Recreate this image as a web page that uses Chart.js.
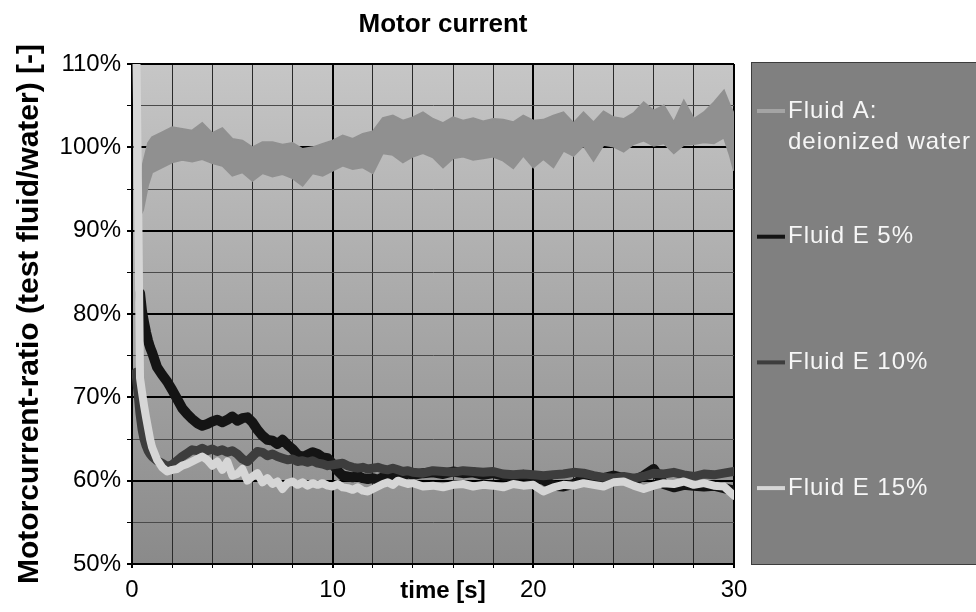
<!DOCTYPE html>
<html><head><meta charset="utf-8">
<script src="https://cdn.jsdelivr.net/npm/chart.js@4.4.0/dist/chart.umd.min.js"></script>
<style>html,body{margin:0;padding:0;background:#fff;}#wrap{width:976px;height:612px;}</style>
</head><body><div id="wrap"><canvas id="c" width="976" height="612"></canvas></div>
<script>
const chartTitle = 'Motor current';
const xAxisTitle = 'time [s]';
const yAxisTitle = 'Motorcurrent-ratio (test fluid/water) [-]';
const seriesNames = [['Fluid A:', 'deionized water'], ['Fluid E 5%'], ['Fluid E 10%'], ['Fluid E 15%']];
const xTickLabels = [0, 10, 20, 30];
const yTickLabels = [50, 60, 70, 80, 90, 100, 110];

const timeA = [0.45,0.55,0.8,1,1.5,2,2.5,3,3.5,4,4.5,5,5.5,6,6.5,7,7.5,8,8.5,9,9.5,10,10.5,11,11.5,12,12.5,13,13.5,14,14.5,15,15.5,16,16.5,17,17.5,18,18.5,19,19.5,20,20.5,21,21.5,22,22.5,23,23.5,24,24.5,25,25.5,26,26.5,27,27.5,28,28.5,29,29.5,29.8,30];
const fluidAUpper = [95,98,100.5,101.2,101.8,102.4,102.2,102.0,102.9,101.7,102.3,101.0,100.8,100.0,100.6,100.6,100.3,100.5,99.8,100.0,100.4,100.8,101.4,101.0,101.6,101.9,103.5,103.8,103.2,103.6,104.2,103.4,102.9,103.6,103.2,103.5,103.1,103.4,103.3,103.0,103.8,103.2,103.3,103.8,104.2,102.9,104.2,103.0,104.3,103.6,103.4,104.1,105.4,104.4,105.0,103.0,105.6,103.4,104.2,105.4,106.8,105.0,104.0];
const fluidALower = [92.0,92.5,95.5,97.0,97.6,98.2,98.5,98.3,98.6,98.1,97.8,96.6,97.0,96.0,96.9,96.5,96.8,96.3,95.4,96.9,96.6,97.2,97.8,97.4,97.6,96.9,99.3,99.1,98.2,98.9,99.3,98.8,97.6,98.7,98.9,98.5,98.7,98.9,98.4,97.5,99.0,97.6,98.6,97.6,99.6,99.0,100.2,98.4,100.3,100.1,99.5,100.4,100.8,100.2,100.5,99.3,100.3,100.4,100.6,100.5,101.2,99.0,97.2];

const timeE = [0.1,0.2,0.3,0.4,0.5,0.6,0.7,0.8,0.9,1.0,
  1.25,1.5,1.75,2,2.25,2.5,2.75,3,3.25,3.5,3.75,4,4.25,4.5,4.75,5,5.25,5.5,5.75,6,6.25,6.5,6.75,7,7.25,7.5,7.75,8,
  8.25,8.5,8.75,9,9.25,9.5,9.75,10,10.25,10.5,10.75,11,11.25,11.5,11.75,12,12.25,12.5,12.75,13,13.25,13.5,13.75,14,
  14.5,15,15.5,16,16.5,17,17.5,18,18.5,19,19.5,20,20.5,21,21.5,22,22.5,23,23.5,24,24.5,25,25.5,26,26.5,27,27.5,28,28.5,29,29.5,30];
const fluidE5 = [null,null,null,82.5,80.3,79.0,77.8,76.8,76.0,75.4,
  73.6,72.7,71.9,70.9,69.8,68.7,68.0,67.4,66.9,66.6,66.8,67.1,
  67.3,67.0,67.3,67.7,67.2,67.5,67.6,67.0,
  66.1,65.4,64.9,64.8,64.4,64.9,64.3,63.8,
  63.1,62.8,63.1,63.4,63.2,62.8,62.7,62.0,
  61.2,60.6,60.5,60.4,60.6,60.3,60.2,60.3,
  60.1,60.4,60.6,60.5,60.8,60.6,60.9,60.7,
  60.9,61.0,60.8,61.1,60.9,61.0,60.7,60.9,
  60.6,60.5,60.7,60.4,60.1,59.4,59.3,59.6,
  60.2,60.4,60.3,60.6,60.3,60.0,60.6,61.4,
  59.6,59.2,59.5,59.4,59.3,59.4,59.1,58.8];
const fluidE10 = [null,73,70.5,68,66.2,65,64.2,63.6,63.2,62.9,
  62.4,62.1,61.7,61.9,
  62.4,62.9,63.3,63.7,63.6,63.9,63.6,63.8,
  63.5,63.7,63.4,63.6,63.2,62.6,62.3,62.9,
  63.5,63.4,63.0,63.2,62.9,62.7,62.5,62.6,
  62.3,62.4,62.2,62.4,62.1,62.0,61.8,61.9,
  62.0,62.1,61.8,61.6,61.5,61.6,61.4,61.5,
  61.6,61.4,61.3,61.5,61.3,61.1,61.2,61.0,
  60.9,61.2,61.1,61.0,61.2,61.1,61.0,61.1,
  60.8,60.7,60.8,60.7,60.6,60.7,60.8,61.0,
  60.9,60.6,60.4,60.3,60.5,60.3,60.5,60.9,
  60.8,61.0,60.7,60.5,60.8,60.7,60.9,61.1];
const fluidE15 = [140,115,95,72.3,70.6,69.0,67.6,66.3,65.0,64.0,
  62.5,61.6,61.1,61.3,
  61.4,61.8,62.0,62.3,62.6,62.9,62.5,61.8,
  62.3,61.3,62.3,60.6,60.8,61.4,60.0,60.5,
  60.9,59.8,60.3,59.6,59.9,59.0,59.7,59.9,
  59.5,59.8,59.4,59.7,59.5,59.7,59.4,59.3,
  59.6,59.2,59.1,58.9,59.2,58.8,58.7,59.0,
  59.3,59.6,59.8,59.5,60.0,59.8,59.6,59.7,
  59.3,59.4,59.2,59.5,59.6,59.3,59.5,59.4,
  59.2,59.6,59.4,59.5,58.7,59.2,59.5,59.4,
  59.7,59.5,59.3,59.8,59.9,59.4,59.0,59.4,
  59.7,59.6,59.9,59.5,59.7,59.4,59.3,58.2];

const colA = '#909090', colE5 = '#141414', colE10 = '#3d3d3d', colE15 = '#d6d6d6';
const legendLineColours = ['#a4a4a4', colE5, colE10, colE15];
const pts = (t, v) => t.map((x, i) => ({x: x, y: v[i]}));
const FONT = '"Liberation Sans", Arial, sans-serif';

const decor = {
  id: 'decor',
  beforeDraw(chart) {
    const {ctx, chartArea: a} = chart;
    ctx.save();
    ctx.fillStyle = '#fff';
    ctx.fillRect(0, 0, chart.width, chart.height);
    const g = ctx.createLinearGradient(0, a.top, 0, a.bottom);
    g.addColorStop(0, '#c6c6c6');
    g.addColorStop(1, '#8a8a8a');
    ctx.fillStyle = g;
    ctx.fillRect(a.left, a.top, a.right - a.left, a.bottom - a.top);
    ctx.restore();
  },
  afterDraw(chart) {
    const {ctx, chartArea: a} = chart;
    ctx.save();
    const cx = (a.left + a.right) / 2 + 10;
    ctx.fillStyle = '#000';
    ctx.textAlign = 'center';
    ctx.textBaseline = 'middle';
    ctx.font = 'bold 26px ' + FONT;
    ctx.fillText(chartTitle, cx, 25);
    ctx.font = 'bold 24px ' + FONT;
    ctx.fillText(xAxisTitle, cx, a.bottom + 27);
    // legend
    const lx = a.right + 17, ly = a.top - 2, lh = a.bottom - a.top + 3;
    ctx.fillStyle = '#808080';
    ctx.fillRect(lx, ly, chart.width - lx, lh);
    ctx.strokeStyle = '#3c3c3c';
    ctx.lineWidth = 1;
    ctx.strokeRect(lx + 0.5, ly + 0.5, chart.width - lx + 2, lh - 1);
    ctx.font = '24px ' + FONT;
    ctx.textAlign = 'left';
    ctx.letterSpacing = '1px';
    seriesNames.forEach((lines, i) => {
      const y = ly + 49 + i * 125.7;
      ctx.strokeStyle = legendLineColours[i];
      ctx.lineWidth = 4;
      ctx.beginPath();
      ctx.moveTo(lx + 6, y);
      ctx.lineTo(lx + 34, y);
      ctx.stroke();
      ctx.fillStyle = '#f6f6f6';
      lines.forEach((s, j) => ctx.fillText(s, lx + 37, y + j * 31));
    });
    ctx.restore();
  }
};

const isMajor = c => c.tick && Math.round(c.tick.value) % 10 === 0;

new Chart(document.getElementById('c'), {
  type: 'line',
  data: {
    datasets: [
      {label: seriesNames[0].join(' '), data: pts(timeA, fluidAUpper), borderColor: colA, backgroundColor: colA, borderWidth: 2, pointRadius: 0, fill: '+1', order: 4},
      {label: 'lower', data: pts(timeA, fluidALower), borderColor: colA, backgroundColor: colA, borderWidth: 2, pointRadius: 0, fill: false, order: 5},
      {label: seriesNames[1][0], data: pts(timeE, fluidE5), borderColor: colE5, borderWidth: 10, pointRadius: 0, fill: false, order: 2, borderJoinStyle: 'round', borderCapStyle: 'round'},
      {label: seriesNames[2][0], data: pts(timeE, fluidE10), borderColor: colE10, borderWidth: 9, pointRadius: 0, fill: false, order: 1, borderJoinStyle: 'round', borderCapStyle: 'round'},
      {label: seriesNames[3][0], data: pts(timeE, fluidE15), borderColor: colE15, borderWidth: 8, pointRadius: 0, fill: false, order: 0, borderJoinStyle: 'round', borderCapStyle: 'round'}
    ]
  },
  options: {
    responsive: false,
    animation: false,
    devicePixelRatio: 1,
    layout: {padding: {top: 64, right: 242, left: 0, bottom: 0}},
    plugins: {legend: {display: false}, title: {display: false}, tooltip: {enabled: false}},
    scales: {
      x: {
        type: 'linear', min: 0, max: 30,
        afterFit: s => { s.height = 48; },
        ticks: {stepSize: 2, autoSkip: false, maxRotation: 0, padding: 8, color: '#000',
          font: {size: 24, family: FONT},
          callback: v => xTickLabels.includes(v) ? String(v) : ''},
        grid: {color: c => isMajor(c) ? '#000' : '#2a2a2a', lineWidth: c => isMajor(c) ? 2 : 1, tickLength: 4, tickColor: '#000'},
        border: {color: '#000', width: 2}
      },
      y: {
        type: 'linear', min: 50, max: 110,
        afterFit: s => { s.width = 132; },
        ticks: {stepSize: 5, autoSkip: false, padding: 6, color: '#000',
          font: {size: 24, family: FONT},
          callback: v => yTickLabels.includes(v) ? v + '%' : ''},
        grid: {color: c => isMajor(c) ? '#000' : '#4a4a4a', lineWidth: c => isMajor(c) ? 2 : 1, tickLength: 5, tickColor: '#000'},
        border: {color: '#000', width: 2},
        title: {display: true, text: yAxisTitle, color: '#000', padding: {top: 12, bottom: 0},
          font: {size: 30, weight: 'bold', family: FONT}}
      }
    }
  },
  plugins: [decor]
});
</script>
</body></html>
